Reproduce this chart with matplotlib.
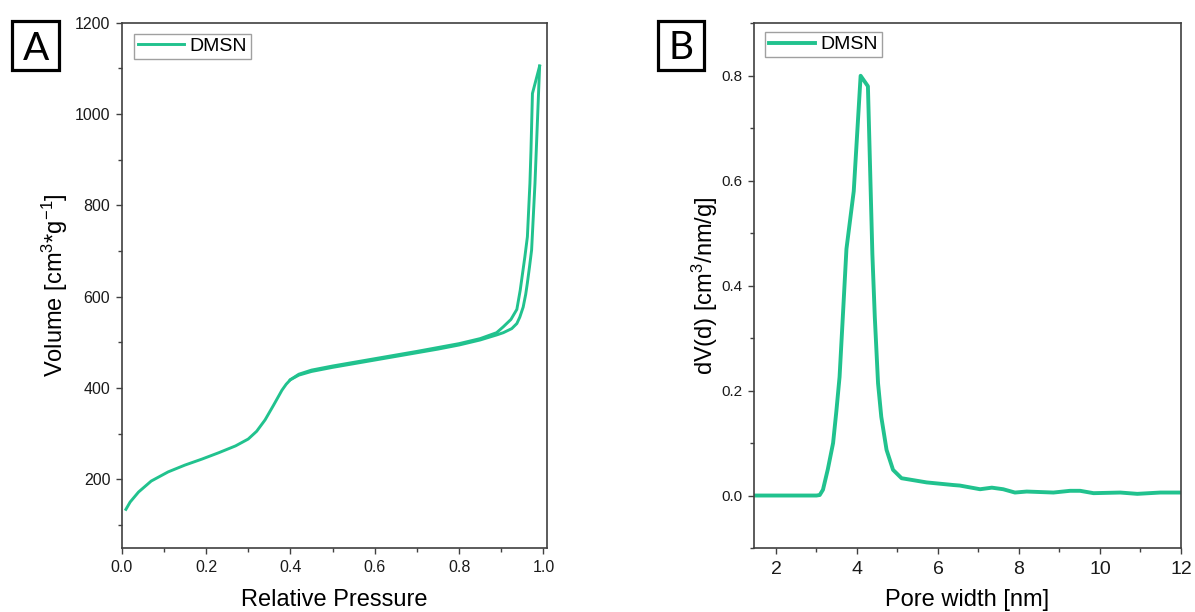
import matplotlib
matplotlib.use("Agg")
import matplotlib.pyplot as plt
from matplotlib.patches import Rectangle
from matplotlib.ticker import MultipleLocator

# ---------------- data ----------------
series_name = "DMSN"

# Panel A: N2 isotherm (adsorption and desorption branches)
ads_p = [0.010, 0.02, 0.04, 0.07, 0.11, 0.15, 0.19, 0.23, 0.27, 0.30, 0.32, 0.34,
         0.36, 0.38, 0.39, 0.40, 0.42, 0.45, 0.50, 0.55, 0.60, 0.65, 0.70, 0.75,
         0.80, 0.85, 0.889, 0.905, 0.925, 0.937, 0.944, 0.952, 0.958, 0.962,
         0.967, 0.972, 0.980, 0.991]
ads_v = [134, 150, 172, 196, 216, 231, 244, 258, 273, 288, 305, 330,
         362, 395, 408, 418, 428, 436, 445, 453, 461, 469, 477, 485,
         494, 505, 516, 521, 530, 541, 555, 577, 605, 630,
         665, 702, 848, 1105]
des_p = [0.991, 0.974, 0.9705, 0.968, 0.962, 0.956, 0.945, 0.937, 0.923, 0.905,
         0.889, 0.85, 0.80, 0.70, 0.60, 0.50, 0.45, 0.42, 0.40]
des_v = [1105, 1045, 920, 848, 731, 687, 614, 572, 550, 534,
         521, 508, 497, 480, 464, 448, 439, 430, 418]

# Panel B: pore size distribution
pore_w = [1.45, 2.0, 2.5, 3.0, 3.08, 3.16, 3.28, 3.41, 3.49, 3.57, 3.65, 3.74,
          3.92, 4.09, 4.27, 4.38, 4.44, 4.52, 4.60, 4.73, 4.89, 5.10, 5.72,
          6.38, 6.54, 7.04, 7.33, 7.61, 7.90, 8.19, 8.85, 9.26, 9.51, 9.84,
          10.50, 10.92, 11.49, 12.0]
dv_d = [0, 0, 0, 0, 0.001, 0.011, 0.05, 0.10, 0.16, 0.226, 0.34, 0.47,
        0.58, 0.80, 0.78, 0.46, 0.34, 0.214, 0.15, 0.087, 0.049, 0.033, 0.025,
        0.020, 0.019, 0.012, 0.015, 0.012, 0.0057, 0.0076, 0.0057, 0.009, 0.009, 0.0045,
        0.0057, 0.0032, 0.0057, 0.0057]

# ---------------- style ----------------
GREEN = "#21c28e"
SPINE = "#404040"
plt.rcParams["font.family"] = ["Liberation Sans", "DejaVu Sans"]
plt.rcParams["mathtext.fontset"] = "custom"
plt.rcParams["mathtext.rm"] = "Liberation Sans"
plt.rcParams["mathtext.it"] = "Liberation Sans:italic"
plt.rcParams["mathtext.bf"] = "Liberation Sans:bold"

W, H = 1195, 612
fig = plt.figure(figsize=(W / 100, H / 100), dpi=100)

axA = fig.add_axes([121.7 / W, 1 - 547.7 / H, 425 / W, 525 / H])
axB = fig.add_axes([753.7 / W, 1 - 548 / H, 427.3 / W, 524.7 / H])


def style(ax, xsize, ysize):
    for s in ax.spines.values():
        s.set_color(SPINE)
        s.set_linewidth(1.2)
    ax.tick_params(which="major", direction="out", length=4.2, width=1.0,
                   color=SPINE, labelcolor="#1a1a1a")
    ax.tick_params(which="minor", direction="out", length=2.8, width=1.0, color=SPINE)
    ax.tick_params(axis="x", which="major", labelsize=xsize, pad=5)
    ax.tick_params(axis="y", which="major", labelsize=ysize, pad=4)
    ax.tick_params(top=False, right=False, which="both")


# Panel A
axA.plot(ads_p, ads_v, color=GREEN, lw=2.1, label=series_name)
axA.plot(des_p, des_v, color=GREEN, lw=2.1)
axA.set_xlim(0, 1.0078)
axA.set_ylim(50, 1200)
axA.xaxis.set_major_locator(MultipleLocator(0.2))
axA.xaxis.set_minor_locator(MultipleLocator(0.1))
axA.yaxis.set_major_locator(MultipleLocator(200))
axA.yaxis.set_minor_locator(MultipleLocator(100))
axA.set_yticks([200, 400, 600, 800, 1000, 1200])
axA.set_xlabel("Relative Pressure", fontsize=17)
axA.set_ylabel(r"Volume [cm$^{3}$*g$^{-1}$]", fontsize=17)
style(axA, 11.5, 11.5)
axA.xaxis.set_label_coords(0.5, -0.1)
axA.xaxis.label.set_va("center")
axA.yaxis.set_label_coords(-0.157, 0.5)
axA.yaxis.label.set_va("center")
legA = axA.legend(loc="upper left", bbox_to_anchor=(12.3 / 425, 1 - 11.3 / 525),
                  borderaxespad=0, fontsize=14, frameon=True, fancybox=False,
                  edgecolor="#a0a0a0", framealpha=1, handlelength=2.4,
                  handletextpad=0.28, borderpad=0.18)
legA.get_frame().set_linewidth(1.0)

# Panel B
axB.plot(pore_w, dv_d, color=GREEN, lw=2.8, label=series_name)
axB.set_xlim(1.45, 12)
axB.set_ylim(-0.1, 0.9)
axB.xaxis.set_major_locator(MultipleLocator(2))
axB.xaxis.set_minor_locator(MultipleLocator(1))
axB.yaxis.set_minor_locator(MultipleLocator(0.1))
axB.set_yticks([0.0, 0.2, 0.4, 0.6, 0.8])
axB.set_xticks([2, 4, 6, 8, 10, 12])
axB.set_xlabel("Pore width [nm]", fontsize=17)
axB.set_ylabel(r"dV(d) [cm$^{3}$/nm/g]", fontsize=17)
style(axB, 14, 11)
axB.xaxis.set_label_coords(0.5, -0.1)
axB.xaxis.label.set_va("center")
axB.yaxis.set_label_coords(-0.114, 0.5)
axB.yaxis.label.set_va("center")
legB = axB.legend(loc="upper left", bbox_to_anchor=(11.3 / 427.3, 1 - 9 / 524.7),
                  borderaxespad=0, fontsize=14, frameon=True, fancybox=False,
                  edgecolor="#a0a0a0", framealpha=1, handlelength=2.4,
                  handletextpad=0.28, borderpad=0.18)
legB.get_frame().set_linewidth(1.0)

# Panel letters in boxes
for (x0, x1, cx, base, letter) in [(12.2, 58.6, 35.8, 60.0, "A"),
                                    (657.7, 703.6, 681.5, 59.3, "B")]:
    y0, y1 = 20.8, 69.5
    fig.patches.append(Rectangle((x0 / W, 1 - y1 / H), (x1 - x0) / W, (y1 - y0) / H,
                                 transform=fig.transFigure, fill=False,
                                 edgecolor="black", linewidth=2.3))
    fig.text(cx / W, 1 - base / H, letter, ha="center", va="baseline",
             fontsize=28, family=["Lato", "DejaVu Sans"], color="black")

fig.savefig("out.png", dpi=100)
